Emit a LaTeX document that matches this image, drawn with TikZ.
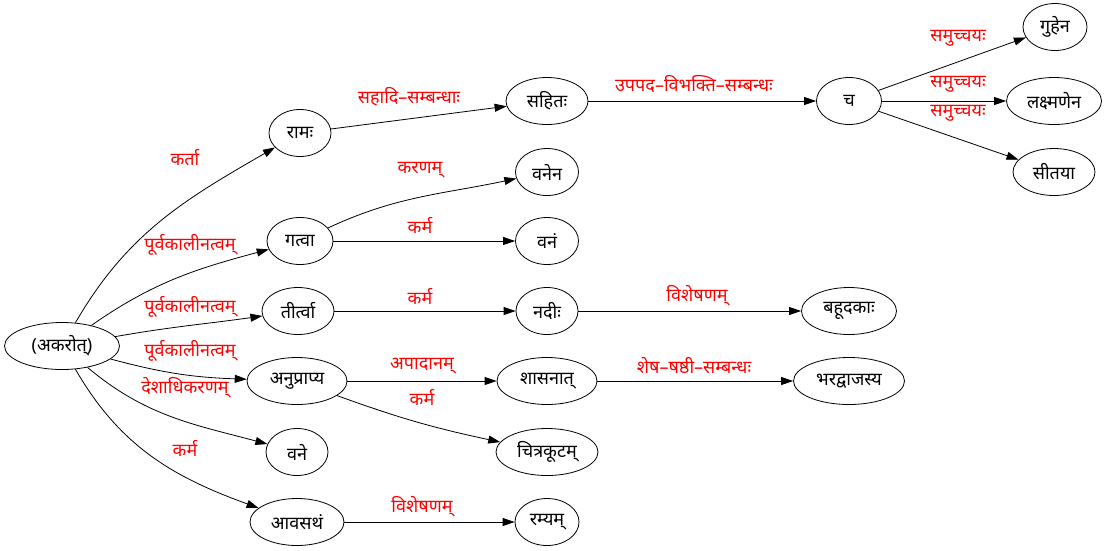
\documentclass[tikz,border=0pt]{standalone}
\usepackage{fontspec}
\setmainfont{Noto Sans}[Script=Devanagari]
\usetikzlibrary{shapes.geometric,arrows.meta}
\tikzset{
  word/.style={draw, ellipse, line width=0.8pt, minimum height=47pt, minimum width=64pt, inner sep=0pt, font=\fontsize{18}{20}\selectfont},
  rel/.style={text=red, inner sep=0pt, font=\fontsize{18}{20}\selectfont},
  dep/.style={-{Triangle[length=12pt,width=8pt]}, line width=0.8pt}
}
\begin{document}
\begin{tikzpicture}[x=1pt,y=-1pt]
\useasboundingbox (0,0) rectangle (1108,550);
\node[word, minimum width=115pt] (akarot) at (62,346) {(अकरोत्)};
\node[word, minimum width=62pt] (rama) at (300,133) {रामः};
\node[word, minimum width=66pt] (gatva) at (300,241) {गत्वा};
\node[word, minimum width=72pt] (tirtva) at (298,311) {तीर्त्वा};
\node[word, minimum width=100pt] (anuprapya) at (297,381) {अनुप्राप्य};
\node[word, minimum width=62pt] (vane) at (297,452) {वने};
\node[word, minimum width=94pt] (avasatham) at (297,522) {आवसथं};
\node[word, minimum width=82pt] (sahita) at (547,101) {सहितः};
\node[word, minimum width=63pt] (vanena) at (547,172) {वनेन};
\node[word, minimum width=63pt] (vanam) at (547,241) {वनं};
\node[word, minimum width=62pt] (nadi) at (547,311) {नदीः};
\node[word, minimum width=100pt] (shasanat) at (547,381) {शासनात्};
\node[word, minimum width=102pt] (citrakuta) at (547,452) {चित्रकूटम्};
\node[word, minimum width=64pt] (ramya) at (547,522) {रम्यम्};
\node[word, minimum width=65pt] (ca) at (849,101) {च};
\node[word, minimum width=95pt] (bahudaka) at (849,311) {बहूदकाः};
\node[word, minimum width=111pt] (bharadvaja) at (849,381) {भरद्वाजस्य};
\node[word, minimum width=64pt] (guha) at (1055,27) {गुहेन};
\node[word, minimum width=95pt] (lakshmana) at (1054,101) {लक्ष्मणेन};
\node[word, minimum width=82pt] (sita) at (1054,172) {सीतया};

\draw[dep] (akarot) to[out=60, in=210] (rama);
\draw[dep] (akarot) to[out=35, in=195] (gatva);
\draw[dep] (akarot) to[out=10, in=188] (tirtva);
\draw[dep] (akarot) to[out=-15, in=178] (anuprapya);
\draw[dep] (akarot) to[out=-40, in=165] (vane);
\draw[dep] (akarot) to[out=-60, in=160] (avasatham);
\draw[dep] (rama) -- (sahita);
\draw[dep] (gatva) to[out=25, in=192] (vanena);
\draw[dep] (gatva) -- (vanam);
\draw[dep] (tirtva) -- (nadi);
\draw[dep] (anuprapya) -- (shasanat);
\draw[dep] (anuprapya) to[out=-20, in=168] (citrakuta);
\draw[dep] (avasatham) -- (ramya);
\draw[dep] (sahita) -- (ca);
\draw[dep] (nadi) -- (bahudaka);
\draw[dep] (shasanat) -- (bharadvaja);
\draw[dep] (ca) -- (guha);
\draw[dep] (ca) -- (lakshmana);
\draw[dep] (ca) -- (sita);

\node[rel] (l-karta) at (185,158) {कर्ता};
\node[rel] (l-purva1) at (190,245) {पूर्वकालीनत्वम्};
\node[rel] (l-purva2) at (190,307) {पूर्वकालीनत्वम्};
\node[rel] (l-purva3) at (190,351) {पूर्वकालीनत्वम्};
\node[rel] (l-desha) at (185,388) {देशाधिकरणम्};
\node[rel] (l-karma1) at (185,448) {कर्म};
\node[rel] (l-sahadi) at (409,97) {सहादि–सम्बन्धाः};
\node[rel] (l-karana) at (420,170) {करणम्};
\node[rel] (l-karma2) at (420,225) {कर्म};
\node[rel] (l-karma3) at (420,296) {कर्म};
\node[rel] (l-apadana) at (422,366) {अपादानम्};
\node[rel] (l-karma4) at (422,397) {कर्म};
\node[rel] (l-vishesha1) at (422,507) {विशेषणम्};
\node[rel] (l-upapada) at (694,84) {उपपद–विभक्ति–सम्बन्धः};
\node[rel] (l-vishesha2) at (697,296) {विशेषणम्};
\node[rel] (l-shesha) at (694,366) {शेष–षष्ठी–सम्बन्धः};
\node[rel] (l-samu1) at (958,38) {समुच्चयः};
\node[rel] (l-samu2) at (958,84) {समुच्चयः};
\node[rel] (l-samu3) at (958,113) {समुच्चयः};
\end{tikzpicture}
\end{document}
